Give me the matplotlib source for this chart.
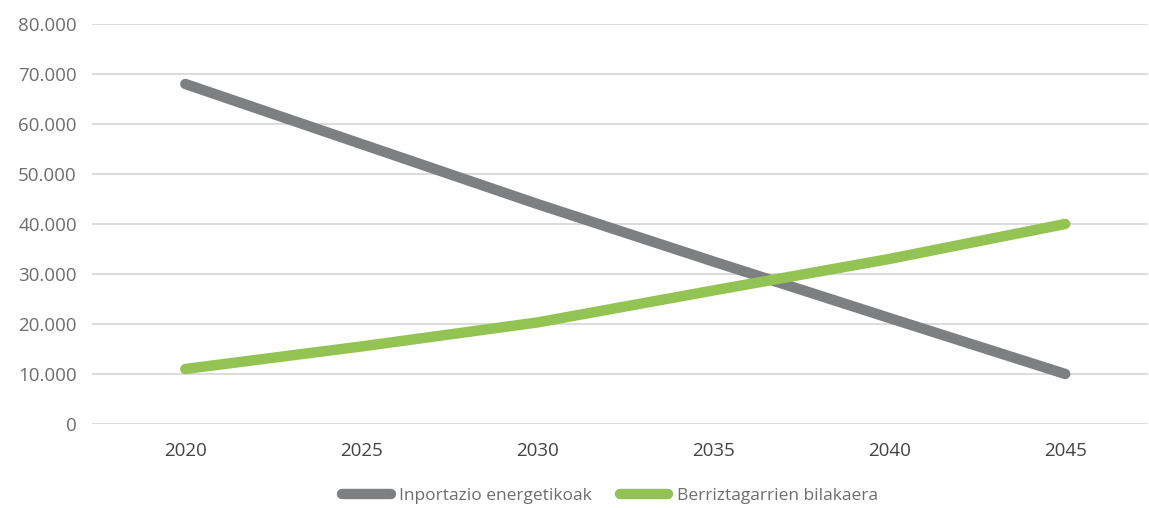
import matplotlib.pyplot as plt
from matplotlib.ticker import FuncFormatter

years = ['2020', '2025', '2030', '2035', '2040', '2045']
inportazio = [68000, 56000, 44000, 32500, 21200, 10000]
berriztagarri = [11000, 15500, 20300, 26700, 33000, 40000]

plt.rcParams['font.family'] = ['Open Sans', 'DejaVu Sans']

fig = plt.figure(figsize=(11.49, 5.08), dpi=100)
ax = fig.add_axes([0.0801, 0.1654, 0.9190, 0.7874])

x = range(len(years))
ax.plot(x, inportazio, color='#7e7f81', lw=7.5, solid_capstyle='round',
        label='Inportazio energetikoak', zorder=3)
ax.plot(x, berriztagarri, color='#92c353', lw=7.5, solid_capstyle='round',
        label='Berriztagarrien bilakaera', zorder=3)

ax.set_xlim(-0.53, 5.47)
ax.set_ylim(0, 80000)
ax.set_yticks(range(0, 80001, 10000))
ax.yaxis.set_major_formatter(FuncFormatter(lambda v, p: f'{int(v):,}'.replace(',', '.')))
ax.set_xticks(list(x))
ax.set_xticklabels(years)

ax.grid(axis='y', color='#d9d9d9', lw=1.3)
ax.set_axisbelow(True)
for s in ax.spines.values():
    s.set_visible(False)
ax.tick_params(axis='both', length=0)
ax.tick_params(axis='y', labelsize=13.5, labelcolor='#6e6e6e', pad=11)
ax.tick_params(axis='x', labelsize=13.5, labelcolor='#444444', pad=13)

fig.legend(loc='center', bbox_to_anchor=(0.531, 0.023), ncol=2, frameon=False,
           fontsize=12.5, labelcolor='#6e6e6e', handlelength=2.8, handletextpad=0.5,
           columnspacing=1.6)

fig.savefig('out.png', dpi=100)
